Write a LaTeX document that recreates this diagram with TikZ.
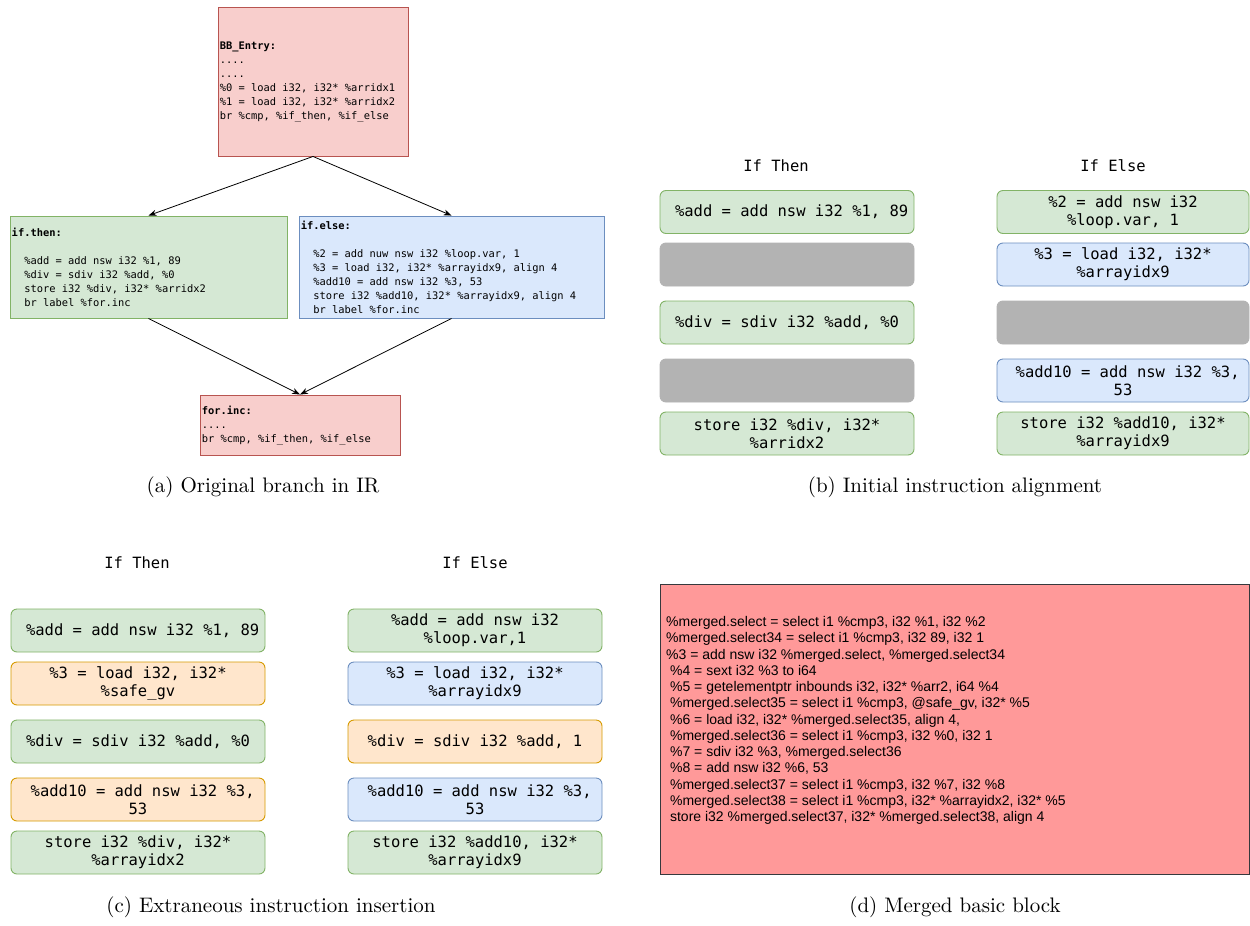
\documentclass[tikz,border=0pt]{standalone}
\usepackage{fontspec}
\newfontfamily\codefont{DejaVu Sans Mono}[WordSpace={1,0,0}]
\newfontfamily\arialfont{Liberation Sans}
\newfontfamily\capfont{lmroman10-regular}[Extension=.otf]
\usetikzlibrary{arrows.meta}

\definecolor{grfill}{HTML}{D5E8D4}\definecolor{grline}{HTML}{82B366}
\definecolor{blfill}{HTML}{DAE8FC}\definecolor{blline}{HTML}{6C8EBF}
\definecolor{orfill}{HTML}{FFE6CC}\definecolor{orline}{HTML}{D79B00}
\definecolor{rdfill}{HTML}{F8CECC}\definecolor{rdline}{HTML}{B85450}
\definecolor{gapfill}{HTML}{B3B3B3}
\definecolor{mgfill}{HTML}{FF9999}\definecolor{mgline}{HTML}{36393D}

\tikzset{
  irbox/.style={draw, line width=0.9pt, inner sep=0pt},
  irtext/.style={anchor=west, align=left, inner sep=0pt,
    font=\codefont\fontsize{10.4}{14}\selectfont},
  redblk/.style={fill=rdfill, draw=rdline},
  greenblk/.style={fill=grfill, draw=grline},
  blueblk/.style={fill=blfill, draw=blline},
  orangeblk/.style={fill=orfill, draw=orline},
  flow/.style={-{Stealth[length=8pt,width=6pt]}, line width=0.8pt},
  instr/.style={draw, line width=0.9pt, rounded corners=6pt, minimum width=254pt,
    minimum height=43pt, inner sep=0pt, align=center,
    font=\codefont\fontsize{15.5}{18}\selectfont},
  gapslot/.style={instr, fill=gapfill, draw=gapfill},
  collabel/.style={font=\codefont\fontsize{15.5}{18}\selectfont},
  caption/.style={font=\capfont\fontsize{21}{25}\selectfont},
  mergebox/.style={draw=mgline, fill=mgfill, line width=0.9pt, minimum width=589pt,
    minimum height=290pt, inner sep=0pt},
  mergetext/.style={anchor=west, align=left, inner sep=0pt,
    font=\arialfont\fontsize{14}{16.25}\selectfont},
}

\begin{document}
\begin{tikzpicture}[x=1pt, y=-1pt]
\fill[white] (0,0) rectangle (1250,926);
\useasboundingbox (0,0) rectangle (1250,926);

% ---- (a) control flow of the original branch
\node[irbox, redblk, minimum width=190pt, minimum height=149pt] (entry) at (313,81.5) {};
\node[irtext] (entrycode) at ([xshift=2pt]entry.west)
  {\textbf{BB\_Entry:}\\....\\....\\\%0 = load i32, i32* \%arridx1\\\%1 = load i32, i32* \%arridx2\\br \%cmp, \%if\_then, \%if\_else};
\node[irbox, greenblk, minimum width=277pt, minimum height=102pt] (ifthen) at (148.5,267) {};
\node[irtext] (ifthencode) at ([xshift=2pt]ifthen.west)
  {\textbf{if.then:}\\[14pt]~~\%add = add nsw i32 \%1, 89\\~~\%div = sdiv i32 \%add, \%0\\~~store i32 \%div, i32* \%arridx2\\~~br label \%for.inc};
\node[irbox, blueblk, minimum width=305pt, minimum height=102pt] (ifelse) at (451.5,267) {};
\node[irtext] (ifelsecode) at ([xshift=2pt]ifelse.west)
  {\textbf{if.else:}\\[14pt]~~\%2 = add nuw nsw i32 \%loop.var, 1\\~~\%3 = load i32, i32* \%arrayidx9, align 4\\~~\%add10 = add nsw i32 \%3, 53\\~~store i32 \%add10, i32* \%arrayidx9, align 4\\~~br label \%for.inc};
\node[irbox, redblk, minimum width=200pt, minimum height=60pt] (forinc) at (300,425) {};
\node[irtext] (forinccode) at ([xshift=2pt]forinc.west)
  {\textbf{for.inc:}\\....\\br \%cmp, \%if\_then, \%if\_else};
\draw[flow] (entry.south) -- (ifthen.north);
\draw[flow] (entry.south) -- (ifelse.north);
\draw[flow] (ifthen.south) -- (forinc.north);
\draw[flow] (ifelse.south) -- (forinc.north);
\node[caption] (capa) at (263,487) {(a) Original branch in IR};

% ---- (b) initial alignment of the two paths
\node[collabel] (bthen) at (776,166) {If Then};
\node[collabel] (belse) at (1113,166) {If Else};
\node[instr, greenblk] (b1l) at (787,212) {~\%add = add nsw i32 \%1, 89};
\node[gapslot] (b2l) at (787,264.5) {};
\node[instr, greenblk] (b3l) at (787,322.5) {\%div = sdiv i32 \%add, \%0};
\node[gapslot] (b4l) at (787,380.5) {};
\node[instr, greenblk] (b5l) at (787,433.5) {store i32 \%div, i32*\\\%arridx2};
\node[instr, greenblk, minimum width=252pt] (b1r) at (1123,212) {\%2 = add nsw i32\\\%loop.var, 1};
\node[instr, blueblk, minimum width=252pt] (b2r) at (1123,264.5) {\%3 = load i32, i32*\\\%arrayidx9};
\node[gapslot, minimum width=252pt] (b3r) at (1123,322.5) {};
\node[instr, blueblk, minimum width=252pt] (b4r) at (1123,380.5) {~\%add10 = add nsw i32 \%3,\\53};
\node[instr, greenblk, minimum width=252pt] (b5r) at (1123,433.5) {store i32 \%add10, i32*\\\%arrayidx9};
\node[caption] (capb) at (955,487) {(b) Initial instruction alignment};

% ---- (c) paths after inserting extraneous instructions
\node[collabel] (cthen) at (137,563) {If Then};
\node[collabel] (celse) at (475,563) {If Else};
\node[instr, greenblk] (c1l) at (138,630.5) {~\%add = add nsw i32 \%1, 89};
\node[instr, orangeblk] (c2l) at (138,683.5) {\%3 = load i32, i32*\\\%safe\_gv};
\node[instr, greenblk] (c3l) at (138,741.5) {\%div = sdiv i32 \%add, \%0};
\node[instr, orangeblk] (c4l) at (138,799.5) {~\%add10 = add nsw i32 \%3,\\53};
\node[instr, greenblk] (c5l) at (138,852.5) {store i32 \%div, i32*\\\%arrayidx2};
\node[instr, greenblk] (c1r) at (475,630.5) {\%add = add nsw i32\\\%loop.var,1};
\node[instr, blueblk] (c2r) at (475,683.5) {\%3 = load i32, i32*\\\%arrayidx9};
\node[instr, orangeblk] (c3r) at (475,741.5) {\%div = sdiv i32 \%add, 1};
\node[instr, blueblk] (c4r) at (475,799.5) {~\%add10 = add nsw i32 \%3,\\53};
\node[instr, greenblk] (c5r) at (475,852.5) {store i32 \%add10, i32*\\\%arrayidx9};
\node[caption] (capc) at (271,907) {(c) Extraneous instruction insertion};

% ---- (d) resulting merged block
\node[mergebox] (merged) at (955,729) {};
\node[mergetext] (mergedcode) at (666,720.5)
  {\%merged.select = select i1 \%cmp3, i32 \%1, i32 \%2\\
   \%merged.select34 = select i1 \%cmp3, i32 89, i32 1\\
   \%3 = add nsw i32 \%merged.select, \%merged.select34\\
   ~\%4 = sext i32 \%3 to i64\\
   ~\%5 = getelementptr inbounds i32, i32* \%arr2, i64 \%4\\
   ~\%merged.select35 = select i1 \%cmp3, @safe\_gv, i32* \%5\\
   ~\%6 = load i32, i32* \%merged.select35, align 4,\\
   ~\%merged.select36 = select i1 \%cmp3, i32 \%0, i32 1\\
   ~\%7 = sdiv i32 \%3, \%merged.select36\\
   ~\%8 = add nsw i32 \%6, 53\\
   ~\%merged.select37 = select i1 \%cmp3, i32 \%7, i32 \%8\\
   ~\%merged.select38 = select i1 \%cmp3, i32* \%arrayidx2, i32* \%5\\
   ~store i32 \%merged.select37, i32* \%merged.select38, align 4};
\node[caption] (capd) at (955,907) {(d) Merged basic block};
\end{tikzpicture}
\end{document}
